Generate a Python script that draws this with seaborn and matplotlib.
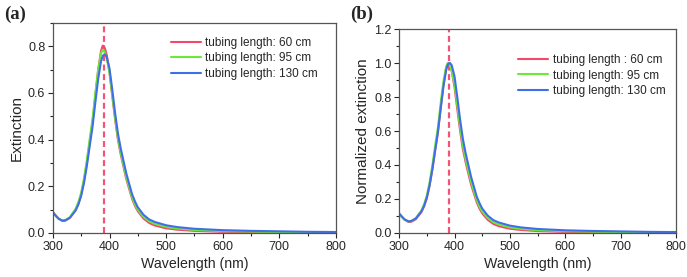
import numpy as np
import pandas as pd
import matplotlib
matplotlib.use("Agg")
import matplotlib.pyplot as plt
from matplotlib.ticker import MultipleLocator
import seaborn as sns

## spectra
wavelength = [300, 305, 310, 317, 322, 330, 340, 345, 350, 355, 360, 365, 370, 375, 380,
              385, 388, 390, 392, 395, 400, 405, 410, 415, 420, 426, 430, 440, 445, 450,
              460, 470, 480, 500, 520, 550, 600, 650, 700, 750, 800]

ext_60 = [0.089, 0.075, 0.062, 0.052, 0.053, 0.065, 0.098, 0.125, 0.165, 0.225, 0.300,
          0.390, 0.475, 0.590, 0.700, 0.780, 0.803, 0.800, 0.790, 0.765, 0.690, 0.585,
          0.485, 0.398, 0.335, 0.270, 0.228, 0.146, 0.116, 0.093, 0.062, 0.043, 0.032,
          0.020, 0.014, 0.009, 0.005, 0.004, 0.003, 0.002, 0.001]
ext_95 = [0.088, 0.073, 0.061, 0.053, 0.055, 0.068, 0.103, 0.132, 0.173, 0.235, 0.312,
          0.402, 0.488, 0.600, 0.700, 0.770, 0.785, 0.782, 0.772, 0.748, 0.685, 0.590,
          0.490, 0.405, 0.342, 0.278, 0.235, 0.152, 0.122, 0.099, 0.069, 0.050, 0.039,
          0.026, 0.019, 0.013, 0.008, 0.006, 0.004, 0.003, 0.002]
ext_130 = [0.088, 0.074, 0.061, 0.052, 0.054, 0.065, 0.096, 0.122, 0.160, 0.215, 0.288,
           0.372, 0.455, 0.560, 0.660, 0.735, 0.758, 0.764, 0.765, 0.755, 0.705, 0.612,
           0.512, 0.425, 0.360, 0.295, 0.252, 0.165, 0.135, 0.110, 0.078, 0.058, 0.047,
           0.033, 0.025, 0.018, 0.012, 0.009, 0.007, 0.005, 0.004]

labels_a = ["tubing length: 60 cm", "tubing length: 95 cm", "tubing length: 130 cm"]
labels_b = ["tubing length : 60 cm", "tubing length: 95 cm", "tubing length: 130 cm"]
colors = ["#f5466c", "#6ce83a", "#3f6fe8"]
peak_nm = 390

sns.set_style("ticks")
plt.rcParams['font.family'] = ['Liberation Sans', 'DejaVu Sans']

series = [ext_60, ext_95, ext_130]
df_a = pd.concat([pd.DataFrame({"wl": wavelength, "y": s, "tube": lab})
                  for s, lab in zip(series, labels_a)])
# panel (b): each spectrum divided by its own maximum
df_b = pd.concat([pd.DataFrame({"wl": wavelength, "y": np.array(s) / max(s), "tube": lab})
                  for s, lab in zip(series, labels_b)])

fig = plt.figure(figsize=(6.87, 2.77), dpi=100)
ax1 = fig.add_axes([0.077, 0.159, 0.412, 0.758])
ax2 = fig.add_axes([0.581, 0.159, 0.403, 0.736])

for ax, df, labels, top, ylab, leg_anchor in [
        (ax1, df_a, labels_a, 0.9, "Extinction", (0.975, 0.985)),
        (ax2, df_b, labels_b, 1.2, "Normalized extinction", (1.0, 0.93))]:
    sns.lineplot(data=df, x="wl", y="y", hue="tube", hue_order=labels,
                 palette=colors, linewidth=1.5, ax=ax)
    ax.axvline(peak_nm, color="#f25478", linestyle=(0, (2.7, 1.6)), linewidth=1.6, zorder=0)
    ax.set_xlim(300, 800)
    ax.set_ylim(0, top)
    ax.xaxis.set_major_locator(MultipleLocator(100))
    ax.xaxis.set_minor_locator(MultipleLocator(50))
    ax.yaxis.set_major_locator(MultipleLocator(0.2))
    ax.yaxis.set_minor_locator(MultipleLocator(0.1))
    ax.yaxis.set_major_formatter(matplotlib.ticker.FormatStrFormatter('%.1f'))
    ax.tick_params(which="major", direction="out", length=3.5, width=0.8, labelsize=9,
                   top=False, right=False, pad=2)
    ax.tick_params(which="minor", direction="out", length=2, width=0.8, top=False, right=False)
    for sp in ax.spines.values():
        sp.set_visible(True)
        sp.set_color("#555555")
        sp.set_linewidth(0.9)
    ax.set_xlabel("Wavelength (nm)", fontsize=10.2, labelpad=3)
    ax.set_ylabel(ylab, fontsize=11, labelpad=3)
    ax.legend(frameon=False, fontsize=8.5, loc="upper right", bbox_to_anchor=leg_anchor,
              handlelength=2.5, handletextpad=0.4, labelspacing=0.3)

fig.text(0.006, 0.93, "(a)", fontsize=13.5, fontweight="bold", family="Liberation Serif")
fig.text(0.51, 0.93, "(b)", fontsize=13.5, fontweight="bold", family="Liberation Serif")

plt.savefig("out.png", dpi=100)
